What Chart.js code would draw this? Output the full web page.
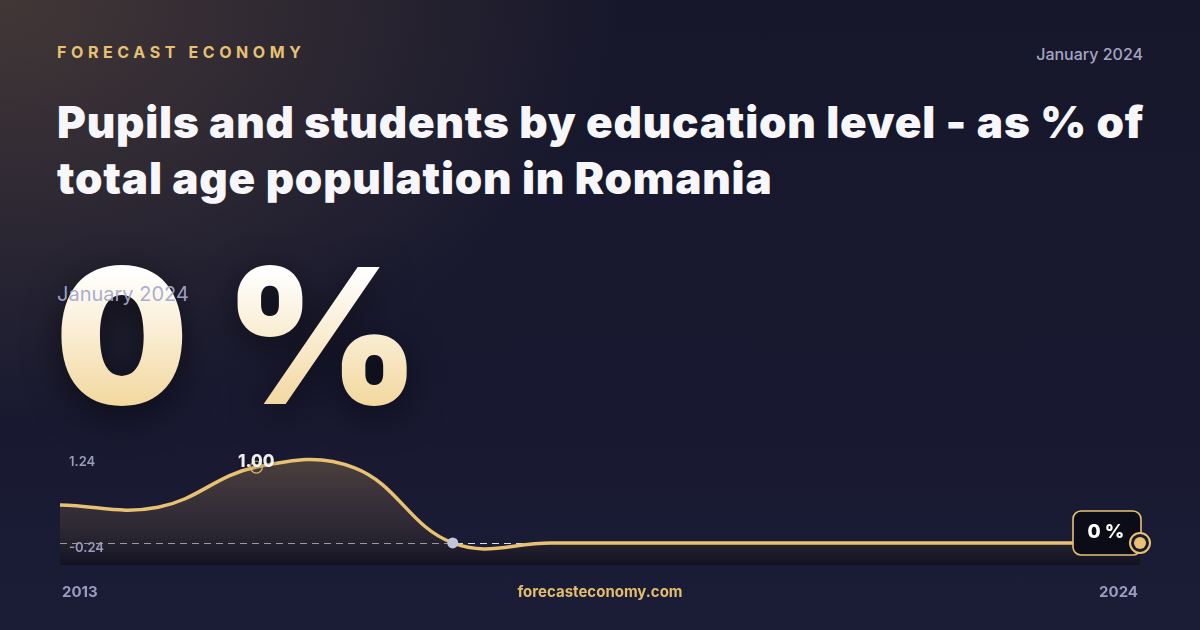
<!DOCTYPE html>
<html>
<head>
<meta charset="utf-8">
<script src="https://cdn.jsdelivr.net/npm/chart.js@4.4.1/dist/chart.umd.min.js"></script>
<style>
  html, body { margin: 0; padding: 0; }
  body {
    width: 1200px; height: 630px; overflow: hidden; position: relative;
    font-family: Inter, "Noto Sans", sans-serif;
    background:
      radial-gradient(ellipse 620px 420px at 0 0, rgba(120, 95, 70, 0.45), rgba(120, 95, 70, 0) 100%),
      linear-gradient(180deg, #17172b 0%, #181930 60%, #1b1c36 100%);
  }
  .brand {
    position: absolute; left: 57px; top: 42px;
    font-size: 16px; font-weight: 700; letter-spacing: 4.6px;
    color: #e6c173;
  }
  .date-top {
    position: absolute; right: 57px; top: 44px;
    font-size: 16px; font-weight: 500; color: #a3a5c2;
  }
  h1 {
    position: absolute; left: 57px; top: 94px; width: 1130px; margin: 0;
    font-size: 44px; font-weight: 900; line-height: 56px; color: #f6f6fb;
    letter-spacing: 0.8px;
  }
  .big {
    position: absolute; left: 55px; top: 226px;
    font-size: 188px; font-weight: 900; line-height: 220px; letter-spacing: -5px;
    word-spacing: 8px;
    background: linear-gradient(180deg, #ffffff 20%, #f2d69a 85%);
    -webkit-background-clip: text; background-clip: text; color: transparent;
    filter: drop-shadow(0 10px 18px rgba(0,0,0,0.55));
  }
  .big-date {
    position: absolute; left: 57px; top: 282px;
    font-size: 20px; font-weight: 400; color: rgba(166, 169, 204, 0.95);
  }
  #chartWrap { position: absolute; left: 40px; top: 425px; width: 1120px; height: 160px; }
  .foot { position: absolute; top: 582px; font-size: 15px; font-weight: 700; }
  .foot.l { left: 62px; color: #9b9dbd; }
  .foot.c { left: 0; width: 1200px; text-align: center; color: #e3bd6c; }
  .foot.r { right: 62px; color: #9b9dbd; }
</style>
</head>
<body>
<div class="brand">FORECAST ECONOMY</div>
<div class="date-top">January 2024</div>
<h1>Pupils and students by education level - as % of total age population in Romania</h1>
<div class="big">0 %</div>
<div class="big-date">January 2024</div>
<div id="chartWrap"><canvas id="trend"></canvas></div>
<div class="foot l">2013</div>
<div class="foot c">forecasteconomy.com</div>
<div class="foot r">2024</div>

<script>
// data
const years = ['2013', '2014', '2015', '2016', '2017', '2018', '2019', '2020', '2021', '2022', '2023', '2024'];
const values = [0.50, 0.47, 1.00, 0.99, 0, 0, 0, 0, 0, 0, 0, 0];
const yTickLabels = ['1.24', '-0.24'];
const yLimits = [-0.29, 1.29];
const latestLabel = '0 %';

const GOLD = '#e8c172';
const maxIdx = values.indexOf(Math.max(...values));
const minIdx = values.indexOf(Math.min(...values));

// dashed zero line, markers, labels, end badge
const overlay = {
    id: 'overlay',
    beforeDatasetsDraw(chart) {
        const { ctx, chartArea, scales: { y } } = chart;
        const zy = Math.round(y.getPixelForValue(0)) + 0.5;
        ctx.save();
        ctx.strokeStyle = 'rgba(255,255,255,0.85)';
        ctx.lineWidth = 1;
        ctx.setLineDash([7, 5]);
        ctx.beginPath();
        ctx.moveTo(chartArea.left, zy);
        ctx.lineTo(chartArea.right, zy);
        ctx.stroke();
        ctx.restore();
    },
    afterDatasetsDraw(chart) {
        const { ctx, chartArea } = chart;
        const pts = chart.getDatasetMeta(0).data;
        ctx.save();

        // scale labels
        ctx.font = '600 13px Inter';
        ctx.fillStyle = '#9a9cbd';
        ctx.textBaseline = 'middle';
        ctx.textAlign = 'left';
        ctx.fillText(yTickLabels[0], chartArea.left + 9, chartArea.top + 17);
        ctx.fillText(yTickLabels[1], chartArea.left + 9, chartArea.bottom - 17);

        // min point
        const pm = pts[minIdx];
        ctx.fillStyle = '#c2c5dc';
        ctx.beginPath();
        ctx.arc(pm.x, pm.y, 5.5, 0, Math.PI * 2);
        ctx.fill();

        // max point + value
        const px = pts[maxIdx];
        ctx.strokeStyle = 'rgba(232,193,114,0.9)';
        ctx.lineWidth = 1.3;
        ctx.beginPath();
        ctx.arc(px.x, px.y, 6, 0, Math.PI * 2);
        ctx.stroke();
        ctx.font = '800 17px Inter';
        ctx.textAlign = 'center';
        ctx.fillStyle = 'rgba(255,255,255,0.92)';
        ctx.shadowColor = 'rgba(0,0,0,0.5)';
        ctx.shadowBlur = 4;
        ctx.fillText(values[maxIdx].toFixed(2), px.x, px.y - 5);
        ctx.shadowBlur = 0;

        // end badge
        const last = pts[pts.length - 1];
        const bw = 68, bh = 44;
        const bx = last.x - bw + 1, by = last.y - 32;
        ctx.fillStyle = '#0c0c18';
        ctx.strokeStyle = GOLD;
        ctx.lineWidth = 1.6;
        ctx.beginPath();
        ctx.roundRect(bx, by, bw, bh, 8);
        ctx.fill();
        ctx.stroke();
        ctx.fillStyle = '#ffffff';
        ctx.font = '800 19px Inter';
        ctx.fillText(latestLabel, bx + 33, by + 21);

        // end point with ring
        ctx.fillStyle = '#1a1a2e';
        ctx.beginPath();
        ctx.arc(last.x, last.y, 10, 0, Math.PI * 2);
        ctx.fill();
        ctx.strokeStyle = GOLD;
        ctx.lineWidth = 2;
        ctx.stroke();
        ctx.fillStyle = GOLD;
        ctx.beginPath();
        ctx.arc(last.x, last.y, 6, 0, Math.PI * 2);
        ctx.fill();
        ctx.restore();
    }
};

const ctx = document.getElementById('trend').getContext('2d');
new Chart(ctx, {
    type: 'line',
    data: {
        labels: years,
        datasets: [{
            data: values,
            borderColor: GOLD,
            borderWidth: 3.5,
            tension: 0.4,
            pointRadius: 0,
            fill: 'start',
            backgroundColor: (c) => {
                const area = c.chart.chartArea;
                if (!area) return 'rgba(0,0,0,0)';
                const g = c.chart.ctx.createLinearGradient(0, area.top, 0, area.bottom);
                g.addColorStop(0, 'rgba(185,145,85,0.38)');
                g.addColorStop(0.55, 'rgba(120,95,70,0.28)');
                g.addColorStop(1, 'rgba(8,8,14,0.45)');
                return g;
            }
        }]
    },
    options: {
        responsive: true,
        maintainAspectRatio: false,
        animation: false,
        layout: { padding: { left: 20, right: 20, top: 20, bottom: 20 } },
        scales: {
            x: { display: false },
            y: { display: false, min: yLimits[0], max: yLimits[1] }
        },
        plugins: { legend: { display: false }, tooltip: { enabled: false } }
    },
    plugins: [overlay]
});
</script>
</body>
</html>
